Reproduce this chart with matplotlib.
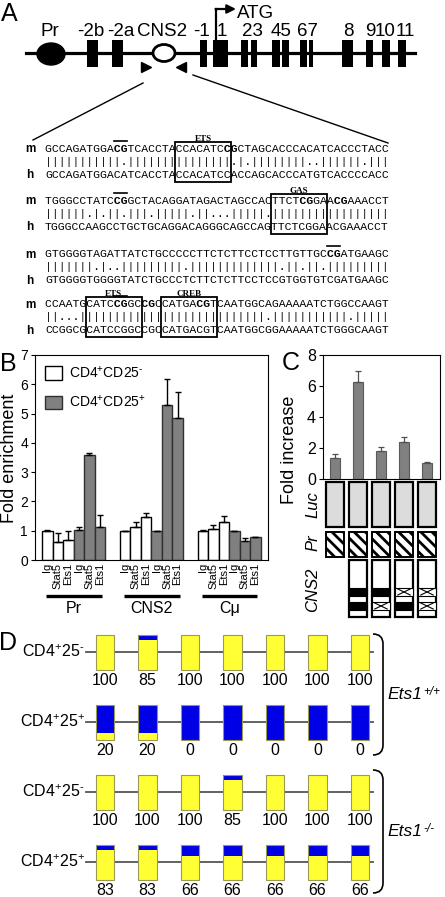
import numpy as np
import matplotlib
matplotlib.use('Agg')
import matplotlib.pyplot as plt
from matplotlib.patches import Rectangle, Ellipse, PathPatch
from matplotlib.path import Path
import matplotlib.transforms as mtransforms

plt.rcParams['font.family'] = ['Liberation Sans', 'DejaVu Sans']
plt.rcParams['mathtext.fontset'] = 'custom'
plt.rcParams['mathtext.rm'] = 'Liberation Sans'
plt.rcParams['mathtext.it'] = 'Liberation Sans:italic'
plt.rcParams['mathtext.default'] = 'regular'
plt.rcParams['hatch.linewidth'] = 2.0

# ---------------- data ----------------
# A: locus map (positions along the drawn gene, in pixels)
gene_span = [26, 415]
exon_left = [87, 112, 200, 213, 241, 251, 272, 282, 300, 309, 342, 366, 382, 398]
exon_right = [98, 123, 207, 228, 248, 257, 280, 289, 307, 313, 353, 373, 390, 406]
locus_labels = ['Pr', '-2b', '-2a', 'CNS2', '-1', '1', '23', '45', '67', '8', '9', '10', '11']
locus_label_x = [50, 91, 121, 162, 202, 222, 252, 281, 308, 348, 370, 385, 405]

# A: CNS2 alignment, mouse (m) vs human (h)
seq_m = ["GCCAGATGGACGTCACCTACCACATCCGCTAGCACCCACATCACCCTACC",
         "TGGGCCTATCCGGCTACAGGATAGACTAGCCACTTCTCGGAACGAAACCT",
         "GTGGGGTAGATTATCTGCCCCCTTCTCTTCCTCCTTGTTGCCGATGAAGC",
         "CCAATGCATCCGGCCGCCATGACGTCAATGGCAGAAAAATCTGGCCAAGT"]
seq_h = ["GCCAGATGGACATCACCTACCACATCCACCAGCACCCATGTCACCCCACC",
         "TGGGCCAAGCCTGCTGCAGGACAGGGCAGCCAGTTCTCGGAACGAAACCT",
         "GTGGGGTGGGGTATCTGCCCTCTTCTCTTCCTCCGTGGTGTCGATGAAGC",
         "CCGGCGCATCCGGCCGCCATGACGTCAATGGCGGAAAAATCTGGGCAAGT"]
motif_block = [0, 1, 3, 3]
motif_start = [19, 33, 6, 17]
motif_end = [26, 40, 13, 24]
motif_name = ['ETS', 'GAS', 'ETS', 'CREB']
cpg_mark_block = [0, 1, 2, 3]
cpg_mark_pos = [10, 10, 41, 10]

# B: ChIP, fold enrichment
chip_groups = ['Pr', 'CNS2', 'C\u03bc']
antibodies = ['Ig', 'Stat5', 'Ets1']
neg_mean = [[1.0, 0.63, 0.67], [1.0, 1.12, 1.46], [1.0, 1.07, 1.31]]
neg_err = [[0.02, 0.29, 0.31], [0.0, 0.19, 0.14], [0.02, 0.11, 0.19]]
pos_mean = [[1.01, 3.57, 1.12], [1.0, 5.29, 4.84], [1.0, 0.66, 0.78]]
pos_err = [[0.12, 0.09, 0.42], [0.0, 0.89, 0.88], [0.0, 0.08, 0.0]]

# C: luciferase reporter
luc_fold = [1.33, 6.28, 1.8, 2.39, 1.01]
luc_err = [0.28, 0.69, 0.28, 0.3, 0.07]
cns2_sites = [None, ('wt', 'wt'), ('wt', 'mut'), ('mut', 'wt'), ('mut', 'mut')]

# D: % methylated CpG
cpg_sites = [1, 2, 3, 4, 5, 6, 7]
wt_cd25neg = [100, 85, 100, 100, 100, 100, 100]
wt_cd25pos = [20, 20, 0, 0, 0, 0, 0]
ko_cd25neg = [100, 100, 100, 85, 100, 100, 100]
ko_cd25pos = [83, 83, 66, 66, 66, 66, 66]
row_labels = [r'CD4$^{+}$25$^{\text{-}}$', r'CD4$^{+}$25$^{+}$',
              r'CD4$^{+}$25$^{\text{-}}$', r'CD4$^{+}$25$^{+}$']

W, H = 445, 897
fig = plt.figure(figsize=(W / 100, H / 100), dpi=100)

def px_axes(x0, y0, x1, y1):
    return fig.add_axes([x0 / W, 1 - y1 / H, (x1 - x0) / W, (y1 - y0) / H])

# ---------------- B ----------------
axB = px_axes(35, 355, 268, 560)
gap = 7.4
tick_pos, tick_lab = [], []
for g in range(3):
    base = g * gap
    xn = base + np.arange(3)
    xp = base + 3 + np.arange(3)
    axB.bar(xn, neg_mean[g], width=1, color='white', edgecolor='black', lw=1, zorder=2)
    axB.bar(xp, pos_mean[g], width=1, color='#808080', edgecolor='#303030', lw=1, zorder=2)
    axB.errorbar(xn, neg_mean[g], yerr=[np.zeros(3), neg_err[g]], fmt='none', ecolor='black',
                 elinewidth=1, capsize=2.5, capthick=1, zorder=3)
    axB.errorbar(xp, pos_mean[g], yerr=[np.zeros(3), pos_err[g]], fmt='none', ecolor='black',
                 elinewidth=1, capsize=2.5, capthick=1, zorder=3)
    tick_pos += list(xn) + list(xp)
    tick_lab += antibodies * 2
axB.set_xlim(-1.17, 21.0)
axB.set_ylim(0, 7)
axB.set_yticks(range(8))
axB.tick_params(axis='y', labelsize=10, length=3, pad=2)
axB.set_xticks(tick_pos)
axB.set_xticklabels(tick_lab, rotation=90, fontsize=8)
axB.tick_params(axis='x', length=0, pad=2)
trB = mtransforms.blended_transform_factory(axB.transData, axB.transAxes)
for g, name in enumerate(chip_groups):
    base = g * gap
    axB.plot([base - 0.1, base + 5.2], [-0.178, -0.178], transform=trB, color='black',
             lw=2.4, clip_on=False, solid_capstyle='butt')
    axB.text(base + 2.55, -0.236, name, transform=trB, ha='center', va='center', fontsize=11.5)
axB.legend(handles=[Rectangle((0, 0), 1, 1, fc='white', ec='black'),
                    Rectangle((0, 0), 1, 1, fc='#808080', ec='#303030')],
           labels=[r'CD4$^{+}$CD25$^{\text{-}}$', r'CD4$^{+}$CD25$^{+}$'],
           loc='upper left', frameon=False, fontsize=10, handlelength=1.25, handleheight=1.1,
           labelspacing=0.95, handletextpad=0.5, borderaxespad=0.4, borderpad=0.3)

# ---------------- C ----------------
axC = px_axes(323, 355, 440, 479)
cx = np.arange(len(luc_fold))
axC.bar(cx, luc_fold, width=0.43, color='#808080', edgecolor='#5a5a5a', lw=0.8, zorder=2)
axC.errorbar(cx, luc_fold, yerr=[np.zeros(5), luc_err], fmt='none', ecolor='#505050',
             elinewidth=0.9, capsize=2.2, capthick=0.9, zorder=3)
axC.set_xlim(-0.52, 4.565)
axC.set_ylim(0, 8)
axC.set_yticks([0, 2, 4, 6, 8])
axC.set_xticks([])
axC.tick_params(axis='y', labelsize=11.5, length=3, pad=2)

axK = px_axes(323, 479, 440, 620)
axK.set_xlim(-0.52, 4.565)
axK.set_ylim(620, 479)
axK.axis('off')
bw = 0.78
for i in cx:
    axK.add_patch(Rectangle((i - bw / 2, 482), bw, 45, fc='#dcdcdc', ec='black', lw=1.6))
    axK.add_patch(Rectangle((i - bw / 2, 532), bw, 25, fc='white', ec='black', lw=1.4,
                            hatch='\\\\\\'))
    sites = cns2_sites[i]
    if sites is None:
        continue
    axK.add_patch(Rectangle((i - bw / 2, 560), bw, 57, fc='white', ec='black', lw=1.6))
    for k, st in enumerate(sites):
        yb = [588, 602][k]
        if st == 'wt':
            axK.add_patch(Rectangle((i - bw / 2, yb), bw, 8, fc='black', ec='black', lw=0.8))
        else:
            axK.add_patch(Rectangle((i - bw / 2, yb), bw, 8, fc='white', ec='black', lw=0.8))
            xa, xb = i - bw / 2 + 0.12, i + bw / 2 - 0.12
            axK.plot([xa, xb], [yb + 1, yb + 7], color='black', lw=0.8)
            axK.plot([xa, xb], [yb + 7, yb + 1], color='black', lw=0.8)

# ---------------- D ----------------
axD = px_axes(0, 620, 445, 897)
axD.set_xlim((0 - 105) / 42.5, (445 - 105) / 42.5)
axD.set_ylim((897 - 652) / 70, (620 - 652) / 70)
axD.axis('off')
site_x = np.arange(len(cpg_sites))
box_w, box_h = 0.435, 0.5
for r, pct in enumerate([wt_cd25neg, wt_cd25pos, ko_cd25neg, ko_cd25pos]):
    yel = np.array(pct) / 100 * box_h
    axD.plot([-0.447, 6.31], [r, r], color='#555555', lw=1.3, zorder=1)
    axD.bar(site_x, yel, width=box_w, bottom=r + box_h / 2 - yel, color='#ffff33', lw=0, zorder=2)
    axD.bar(site_x, box_h - yel, width=box_w, bottom=r - box_h / 2, color='#0000e6', lw=0, zorder=2)
    axD.bar(site_x, box_h, width=box_w, bottom=r - box_h / 2, fill=False, edgecolor='#9a9a55',
            lw=0.8, zorder=3)
    for s, p in zip(site_x, pct):
        axD.text(s, r + 0.41, str(p), ha='center', va='center', fontsize=11.5)
    axD.text(-0.48, r, row_labels[r], ha='right', va='center', fontsize=11.5)

# ---------------- overlay: panel A and annotations ----------------
ov = fig.add_axes([0, 0, 1, 1])
ov.set_xlim(0, W)
ov.set_ylim(H, 0)
ov.axis('off')

# gene map
ov.plot(gene_span, [53, 53], color='black', lw=2.3, zorder=1)
for l, r in zip(exon_left, exon_right):
    ov.add_patch(Rectangle((l, 40), r - l, 27, fc='black', ec='black', lw=0, zorder=2))
ov.add_patch(Ellipse((51, 54), 28, 22, fc='black', ec='black', zorder=2))
ov.add_patch(Ellipse((164, 53), 22, 17, fc='white', ec='black', lw=2, zorder=2))
ov.plot(146, 67, marker='>', ms=6.5, color='black', lw=0)
ov.plot(181, 67, marker='<', ms=6.5, color='black', lw=0)
ov.plot([216, 216], [41, 9], color='black', lw=1.6)
ov.annotate('', xy=(236, 9), xytext=(215.5, 9),
            arrowprops=dict(arrowstyle='-|>', lw=1.6, color='black', mutation_scale=13,
                            shrinkA=0, shrinkB=0))
ov.text(237, 11, 'ATG', ha='left', va='center_baseline', fontsize=13.5)
for lab, x in zip(locus_labels, locus_label_x):
    ov.text(x, 29, lab, ha='center', va='center_baseline', fontsize=13.5)
ov.plot([143, 33], [83, 140], color='black', lw=1)
ov.plot([193, 388], [75, 143], color='black', lw=1)

# alignment
seq_x0, seq_cw = 45, 6.87
mono_fs = seq_cw / 0.6 * 72 / 100
row_y = [148, 200, 253, 303]
mono = dict(fontfamily='Liberation Mono', fontsize=mono_fs, va='center_baseline', ha='left')
for b in range(4):
    ym = row_y[b]
    m, h = seq_m[b], seq_h[b]
    bold = set()
    for i in range(len(m) - 1):
        if m[i:i + 2] == 'CG':
            bold.update([i, i + 1])
    plain = ''.join(' ' if i in bold else c for i, c in enumerate(m))
    strong = ''.join(c if i in bold else ' ' for i, c in enumerate(m))
    ov.text(seq_x0, ym, plain, **mono)
    ov.text(seq_x0, ym, strong, fontweight='bold', **mono)
    match = ''.join('|' if a == c else '.' for a, c in zip(m, h))
    ov.text(seq_x0, ym + 13, match, **mono)
    ov.text(seq_x0, ym + 26, h, **mono)
    ov.text(30, ym, 'm', ha='center', va='center_baseline', fontsize=8.5, fontweight='bold')
    ov.text(30, ym + 26, 'h', ha='center', va='center_baseline', fontsize=8.5, fontweight='bold')
for b, s, e, name in zip(motif_block, motif_start, motif_end, motif_name):
    ym = row_y[b]
    x0 = seq_x0 + s * seq_cw - 0.5
    wdt = (e - s + 1) * seq_cw + 1
    ov.add_patch(Rectangle((x0, ym - 6), wdt, 40, fill=False, ec='black', lw=1.3))
    ov.text(x0 + wdt / 2, ym - 10, name, ha='center', va='center_baseline',
            fontfamily='Liberation Serif', fontweight='bold', fontsize=6.5)
for b, p in zip(cpg_mark_block, cpg_mark_pos):
    ym = row_y[b]
    ov.plot([seq_x0 + p * seq_cw + 0.5, seq_x0 + (p + 2) * seq_cw - 0.5], [ym - 6.5, ym - 6.5],
            color='black', lw=1.2)

# panel letters and axis titles
for lab, x, y in [('A', 9, 14), ('B', 8, 364), ('C', 291, 363), ('D', 8, 643)]:
    ov.text(x, y, lab, ha='center', va='center', fontsize=18)
ov.text(10, 458, 'Fold enrichment', rotation=90, ha='center', va='center', fontsize=13)
ov.text(289, 450, 'Fold increase', rotation=90, ha='center', va='center', fontsize=13)
for lab, y in [('Luc', 505), ('Pr', 543), ('CNS2', 590)]:
    ov.text(313, y, lab, rotation=90, ha='center', va='center', fontsize=12, fontstyle='italic')

# brackets for genotypes
for y0, y1, sup in [(634, 755, '+/+'), (770, 893, '-/-')]:
    verts = [(373, y0), (383, y0), (383, y0 + 10), (383, y1 - 10), (383, y1), (373, y1)]
    codes = [Path.MOVETO, Path.CURVE3, Path.CURVE3, Path.LINETO, Path.CURVE3, Path.CURVE3]
    ov.add_patch(PathPatch(Path(verts, codes), fill=False, ec='black', lw=1.2))
    base_txt = ov.text(387, (y0 + y1) / 2, 'Ets1', ha='left', va='center', fontsize=12.5,
                       fontstyle='italic')
    ov.annotate(sup, xy=(1.0, 1.0), xycoords=base_txt, xytext=(1, 1), textcoords='offset points',
                ha='left', va='top', fontsize=8.5, fontstyle='italic')

fig.savefig('out.png', dpi=100)
